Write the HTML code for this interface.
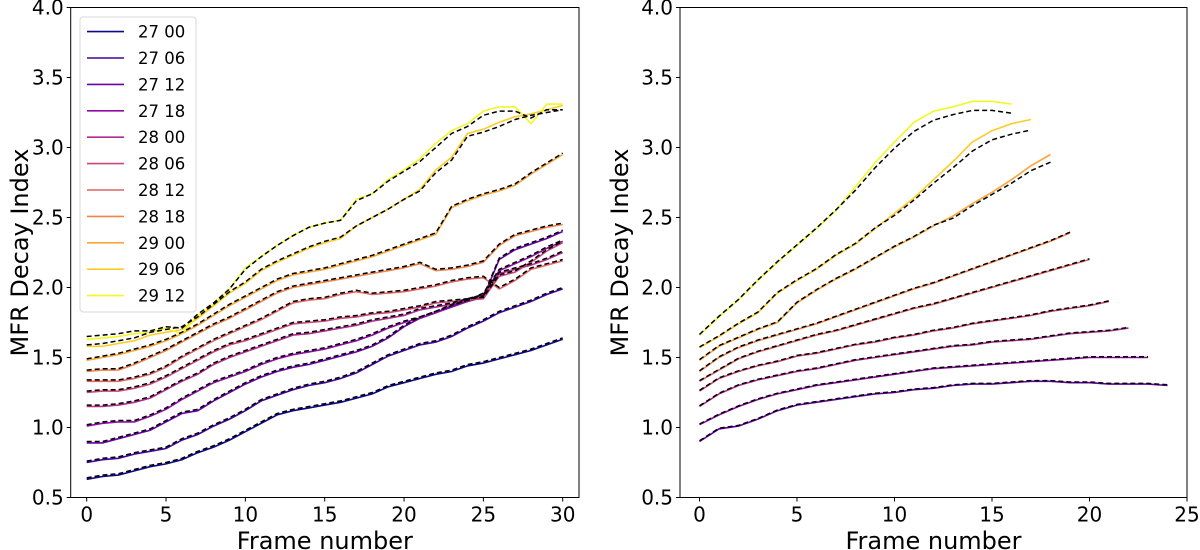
<!DOCTYPE html>
<html><head><meta charset="utf-8"><style>
body{margin:0;background:#fff}
svg{display:block;font-family:"DejaVu Sans","Liberation Sans",sans-serif}
</style></head><body>
<svg id="c" width="1200" height="550" viewBox="0 0 1200 550"></svg>
<script>
const labels=["27 00","27 06","27 12","27 18","28 00","28 06","28 12","28 18","29 00","29 06","29 12"];
const colors=["#0d0887","#41049d","#6a00a8","#8f0da4","#b12a90","#cc4778","#e16462","#f2844b","#fca636","#fcce25","#f0f921"];
const yTicks=[0.5,1.0,1.5,2.0,2.5,3.0,3.5,4.0];
const xTicksL=[0,5,10,15,20,25,30];
const xTicksR=[0,5,10,15,20,25];
const L0=[0.63,0.65,0.66,0.69,0.72,0.74,0.77,0.82,0.86,0.91,0.97,1.03,1.09,1.12,1.14,1.16,1.18,1.21,1.24,1.29,1.32,1.35,1.38,1.40,1.44,1.46,1.49,1.52,1.55,1.59,1.63];
const L1=[0.75,0.77,0.78,0.81,0.83,0.85,0.91,0.95,1.01,1.06,1.12,1.19,1.23,1.27,1.30,1.32,1.35,1.39,1.45,1.51,1.55,1.59,1.61,1.65,1.71,1.76,1.82,1.86,1.90,1.95,1.99];
const L2=[0.89,0.89,0.92,0.95,0.98,1.04,1.10,1.12,1.19,1.25,1.31,1.36,1.40,1.43,1.45,1.48,1.51,1.54,1.58,1.64,1.72,1.78,1.82,1.87,1.90,1.93,2.20,2.27,2.31,2.35,2.40];
const L3=[1.01,1.03,1.04,1.04,1.08,1.13,1.20,1.26,1.32,1.36,1.40,1.45,1.49,1.52,1.54,1.56,1.59,1.62,1.66,1.71,1.75,1.78,1.82,1.86,1.90,1.95,2.12,2.17,2.22,2.28,2.33];
const L4=[1.15,1.15,1.16,1.18,1.21,1.27,1.33,1.38,1.45,1.50,1.54,1.58,1.62,1.66,1.67,1.69,1.71,1.73,1.76,1.78,1.80,1.84,1.86,1.88,1.91,1.94,2.10,2.13,2.16,2.20,2.25];
const L5=[1.25,1.26,1.26,1.28,1.31,1.36,1.42,1.48,1.54,1.59,1.62,1.66,1.70,1.74,1.75,1.76,1.78,1.79,1.81,1.82,1.84,1.86,1.89,1.90,1.91,1.92,2.08,2.11,2.18,2.26,2.32];
const L6=[1.33,1.33,1.33,1.35,1.38,1.43,1.50,1.56,1.62,1.67,1.72,1.77,1.83,1.89,1.91,1.92,1.95,1.97,1.95,1.96,1.97,1.99,2.01,2.04,2.06,2.07,1.99,2.05,2.13,2.16,2.19];
const L7=[1.40,1.41,1.41,1.45,1.50,1.55,1.61,1.67,1.73,1.78,1.84,1.90,1.96,2.00,2.02,2.04,2.06,2.08,2.10,2.12,2.14,2.17,2.12,2.13,2.15,2.18,2.30,2.37,2.40,2.43,2.45];
const L8=[1.48,1.50,1.52,1.55,1.58,1.62,1.67,1.73,1.80,1.87,1.93,1.99,2.05,2.09,2.11,2.13,2.16,2.19,2.22,2.26,2.30,2.34,2.38,2.57,2.62,2.66,2.69,2.73,2.81,2.88,2.95];
const L9=[1.58,1.58,1.60,1.62,1.66,1.68,1.70,1.78,1.87,1.96,2.03,2.12,2.18,2.23,2.28,2.32,2.35,2.44,2.50,2.56,2.63,2.70,2.84,2.93,3.10,3.13,3.18,3.22,3.24,3.27,3.30];
const L10=[1.63,1.64,1.65,1.67,1.68,1.71,1.67,1.80,1.88,1.99,2.14,2.22,2.30,2.37,2.43,2.46,2.48,2.63,2.67,2.77,2.84,2.92,3.03,3.12,3.17,3.26,3.29,3.29,3.17,3.31,3.31];
const D9=[1.58,1.59,1.61,1.63,1.67,1.69,1.71,1.78,1.87,1.96,2.03,2.12,2.18,2.23,2.28,2.32,2.35,2.43,2.49,2.55,2.62,2.68,2.81,2.90,3.07,3.10,3.14,3.19,3.22,3.24,3.26];
const D10=[1.64,1.65,1.66,1.68,1.68,1.71,1.70,1.80,1.88,1.98,2.12,2.21,2.29,2.36,2.42,2.45,2.47,2.61,2.66,2.75,2.82,2.89,2.99,3.09,3.14,3.22,3.25,3.25,3.20,3.26,3.26];
const R0=[0.90,0.99,1.01,1.06,1.12,1.16,1.18,1.20,1.22,1.24,1.25,1.27,1.28,1.30,1.31,1.31,1.32,1.33,1.33,1.32,1.32,1.31,1.31,1.31,1.30];
const R1=[1.02,1.09,1.15,1.20,1.24,1.27,1.30,1.32,1.34,1.36,1.38,1.40,1.42,1.43,1.44,1.45,1.46,1.47,1.48,1.49,1.50,1.50,1.50,1.50];
const R2=[1.15,1.24,1.30,1.34,1.37,1.40,1.42,1.45,1.48,1.50,1.52,1.54,1.56,1.58,1.59,1.61,1.62,1.63,1.65,1.67,1.68,1.69,1.71];
const R3=[1.26,1.35,1.40,1.44,1.47,1.51,1.53,1.56,1.59,1.61,1.64,1.66,1.69,1.71,1.74,1.76,1.78,1.80,1.83,1.85,1.87,1.90];
const R4=[1.33,1.41,1.49,1.54,1.58,1.62,1.66,1.69,1.73,1.77,1.81,1.85,1.88,1.92,1.96,2.00,2.04,2.08,2.12,2.16,2.20];
const R5=[1.40,1.50,1.57,1.62,1.66,1.70,1.74,1.79,1.84,1.89,1.94,1.99,2.03,2.08,2.13,2.18,2.23,2.28,2.33,2.39];
const R6=[1.48,1.58,1.64,1.70,1.75,1.89,1.98,2.06,2.13,2.21,2.29,2.36,2.44,2.51,2.60,2.68,2.77,2.87,2.95];
const R7=[1.57,1.65,1.74,1.82,1.96,2.05,2.13,2.23,2.31,2.42,2.53,2.64,2.77,2.90,3.04,3.12,3.17,3.20];
const R8=[1.66,1.79,1.91,2.05,2.18,2.30,2.42,2.55,2.72,2.89,3.04,3.18,3.26,3.29,3.33,3.33,3.31];
const RD6=[1.48,1.58,1.64,1.70,1.75,1.89,1.98,2.06,2.13,2.21,2.29,2.36,2.44,2.49,2.58,2.66,2.74,2.83,2.89];
const RD7=[1.57,1.65,1.74,1.82,1.96,2.05,2.13,2.23,2.31,2.42,2.51,2.62,2.74,2.85,2.97,3.05,3.09,3.12];
const RD8=[1.66,1.79,1.91,2.05,2.18,2.30,2.42,2.55,2.69,2.85,2.99,3.11,3.19,3.23,3.26,3.26,3.24];
const leftSolid=[L0,L1,L2,L3,L4,L5,L6,L7,L8,L9,L10];
const leftDash=[L0,L1,L2,L3,L4,L5,L6,L7,L8,D9,D10];
const rightSolid=[R0,R1,R2,R3,R4,R5,R6,R7,R8];
const rightDash=[R0,R1,R2,R3,R4,R5,RD6,RD7,RD8];

const NS="http://www.w3.org/2000/svg";
const svg=document.getElementById('c');
function el(t,a,p){const e=document.createElementNS(NS,t);for(const k in a)e.setAttribute(k,a[k]);(p||svg).appendChild(e);return e;}
const yTop=7.5,yBot=497.5;
function ys(v){return yBot-(v-0.5)/3.5*(yBot-yTop);}
function panel(name,xL,xR,x0px,xMaxV,xMaxPx,ticks,solid,dash,colOff,ylabX,dashOffset){
  const g=el('g',{});
  
  
  const xs=v=>x0px+(v)/xMaxV*(xMaxPx-x0px);
  solid.forEach((arr,i)=>{
    const p=el('polyline',{points:arr.map((v,j)=>xs(j)+','+ys(v)).join(' '),fill:'none',stroke:colors[i+colOff],'stroke-width':1.6},g);
    
    
  });
  dash.forEach((arr,i)=>{
    const p=el('polyline',{points:arr.map((v,j)=>xs(j)+','+ys(v+dashOffset)).join(' '),fill:'none',stroke:'#000','stroke-width':1.5,'stroke-dasharray':'5,3'},g);
    
    
  });
  const fr=el('rect',{x:xL,y:yTop,width:xR-xL,height:yBot-yTop,fill:'none',stroke:'#000','stroke-width':1},g);
  
  
  yTicks.forEach(v=>{
    el('line',{x1:xL-4,x2:xL,y1:ys(v),y2:ys(v),stroke:'#000'},g);
    const t=el('text',{x:xL-7,y:ys(v)+7,'text-anchor':'end','font-size':20},g);t.textContent=v.toFixed(1);
    
    
  });
  ticks.forEach(v=>{
    el('line',{x1:xs(v),x2:xs(v),y1:yBot,y2:yBot+4,stroke:'#000'},g);
    const t=el('text',{x:xs(v),y:yBot+24,'text-anchor':'middle','font-size':20},g);t.textContent=v;
    
    
  });
  const xt=el('text',{x:(xL+xR)/2,y:549,'text-anchor':'middle','font-size':24},g);xt.textContent='Frame number';
  
  
  const yt=el('text',{x:ylabX,y:(yTop+yBot)/2,'text-anchor':'middle','font-size':24,transform:`rotate(-90 ${ylabX} ${(yTop+yBot)/2})`},g);yt.textContent='MFR Decay Index';
  
  
}
panel('left-panel',70.7,579,86.7,30,562.7,xTicksL,leftSolid,leftDash,0,28,0.01);
panel('right-panel',680,1187,699.5,25,1187,xTicksR,rightSolid,rightDash,2,628,0.005);
const lg=el('g',{});


el('rect',{x:80,y:17,width:116,height:295,rx:3,fill:'#fff','fill-opacity':0.85,stroke:'#d8d8d8'},lg);
labels.forEach((lb,i)=>{
  const y=31.6+i*26.4;
  const e=el('g',{},lg);
  
  
  el('line',{x1:87,x2:124,y1:y,y2:y,stroke:colors[i],'stroke-width':1.6},e);
  const t=el('text',{x:138,y:y+6,'font-size':16.5},e);t.textContent=lb;
});
</script>
</body></html>
